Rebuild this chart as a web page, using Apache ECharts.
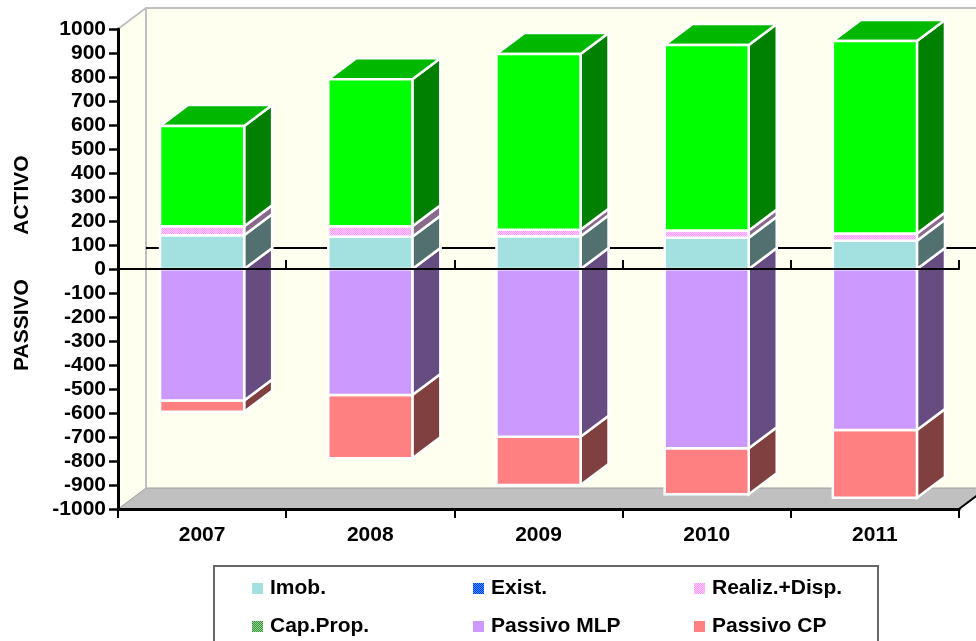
<!DOCTYPE html>
<html>
<head>
<meta charset="utf-8">
<style>html,body{margin:0;padding:0;background:#fff}#chart{width:976px;height:641px}</style>
<script src="https://cdn.jsdelivr.net/npm/echarts@6/dist/echarts.min.js"></script>
</head>
<body>
<div id="chart"></div>
<script>
// Balance sheet structure per year: assets above zero, liabilities below.
const years = ['2007', '2008', '2009', '2010', '2011'];
const imob = [141, 134, 136, 130, 118];
const exist = [0, 0, 0, 0, 0];
const realizDisp = [37, 44, 28, 30, 30];
const capProp = [418, 613, 732, 773, 802];
const passivoMLP = [-548, -525, -699, -747, -671];
const passivoCP = [-47, -264, -201, -192, -282];

const FONT = '"Liberation Sans", Arial, sans-serif';
const DEPTH_X = 28, DEPTH_Y = 21;

// Small two-colour checker used for the stippled fills.
function stipple(a, b) {
  const c = document.createElement('canvas');
  c.width = c.height = 2;
  const g = c.getContext('2d');
  g.fillStyle = a; g.fillRect(0, 0, 2, 2);
  g.fillStyle = b; g.fillRect(0, 0, 1, 1); g.fillRect(1, 1, 1, 1);
  return { image: c, repeat: 'repeat' };
}

// Accumulates a list of layers into [category, start, end] rows.
function stackRows(layers) {
  const running = years.map(() => 0);
  return layers.map(values => values.map((v, i) => {
    const start = running[i];
    running[i] += v;
    return [i, start, running[i]];
  }));
}

// One stacked block: front face, right side face and, optionally, the lid.
function blockRenderer(front, side, lid) {
  return function (params, api) {
    const start = api.value(1), end = api.value(2);
    if (start === end) return null;
    const cat = api.value(0);
    const w = api.size([1, 0])[0] / 2;
    const a = api.coord([cat, start]);
    const b = api.coord([cat, end]);
    const x0 = a[0] - w / 2, x1 = a[0] + w / 2;
    const stroke = { stroke: '#fff', lineWidth: 2.5, lineJoin: 'miter' };
    const children = [
      { type: 'polygon', shape: { points: [[x1, b[1]], [x1 + DEPTH_X, b[1] - DEPTH_Y], [x1 + DEPTH_X, a[1] - DEPTH_Y], [x1, a[1]]] },
        style: Object.assign({ fill: side }, stroke) }
    ];
    if (lid) {
      children.push({ type: 'polygon', shape: { points: [[x0, b[1]], [x0 + DEPTH_X, b[1] - DEPTH_Y], [x1 + DEPTH_X, b[1] - DEPTH_Y], [x1, b[1]]] },
        style: Object.assign({ fill: lid }, stroke) });
    }
    children.push({ type: 'rect', shape: { x: x0, y: Math.min(a[1], b[1]), width: w, height: Math.abs(a[1] - b[1]) },
      style: Object.assign({ fill: front }, stroke) });
    return { type: 'group', children };
  };
}

// Back wall, side wall, floor and the zero line carried on the back wall.
function renderRoom(params, api) {
  const c = params.coordSys;
  const l = c.x, r = c.x + c.width, t = c.y, b = c.y + c.height;
  const zero = api.coord([0, 0])[1];
  const wall = { fill: '#FFFFF0' };
  const edge = { stroke: '#c0c0c0', lineWidth: 2, fill: null };
  return { type: 'group', children: [
    { type: 'polygon', shape: { points: [[l + DEPTH_X, t - DEPTH_Y], [r + DEPTH_X, t - DEPTH_Y], [r + DEPTH_X, b - DEPTH_Y], [l + DEPTH_X, b - DEPTH_Y]] }, style: wall },
    { type: 'polygon', shape: { points: [[l, t], [l + DEPTH_X, t - DEPTH_Y], [l + DEPTH_X, b - DEPTH_Y], [l, b]] }, style: wall },
    { type: 'polygon', shape: { points: [[l, b], [l + DEPTH_X, b - DEPTH_Y], [r + DEPTH_X, b - DEPTH_Y], [r, b]] }, style: { fill: '#c0c0c0', stroke: '#a0a0a0', lineWidth: 1 } },
    { type: 'polyline', shape: { points: [[l, t], [l + DEPTH_X, t - DEPTH_Y], [r + DEPTH_X, t - DEPTH_Y]] }, style: edge },
    { type: 'line', shape: { x1: l + DEPTH_X, y1: t - DEPTH_Y, x2: l + DEPTH_X, y2: b - DEPTH_Y }, style: edge },
    { type: 'line', shape: { x1: r, y1: b, x2: r + DEPTH_X, y2: b - DEPTH_Y }, style: { stroke: '#000', lineWidth: 2 } },
    { type: 'line', shape: { x1: l + DEPTH_X, y1: zero - DEPTH_Y, x2: r + DEPTH_X, y2: zero - DEPTH_Y }, style: { stroke: '#000', lineWidth: 2 } }
  ] };
}

const [rowsImob, rowsExist, rowsRealiz, rowsCap] = stackRows([imob, exist, realizDisp, capProp]);
const [rowsMLP, rowsCP] = stackRows([passivoMLP, passivoCP]);

function block(name, rows, front, side, lid) {
  return {
    type: 'custom', name, data: rows, z: 3,
    coordinateSystem: 'cartesian2d', xAxisIndex: 0, yAxisIndex: 0,
    itemStyle: { color: front },
    encode: { x: 0, y: [1, 2] },
    renderItem: blockRenderer(front, side, lid),
    silent: true, animation: false
  };
}

const labelStyle = { color: '#000', fontFamily: FONT, fontWeight: 'bold', fontSize: 21 };
const legendBase = {
  orient: 'vertical', top: 578, height: 63, padding: 0, itemWidth: 11, itemHeight: 11, itemGap: 17,
  icon: 'rect', selectedMode: false, z: 12,
  textStyle: { color: '#000', fontFamily: FONT, fontWeight: 'bold', fontSize: 21, padding: [0, 0, 0, 2] }
};
const pinkStipple = stipple('#FFCCFF', '#FF99FF');

const option = {
  animation: false,
  backgroundColor: '#fff',
  grid: { left: 118, right: 17, top: 29, bottom: 132, containLabel: false },
  xAxis: [
    { type: 'category', data: years, position: 'bottom', z: 5,
      axisLine: { onZero: false, lineStyle: { color: '#000', width: 3 } },
      axisTick: { show: true, length: 9, alignWithLabel: false, lineStyle: { color: '#000', width: 2 } },
      axisLabel: { ...labelStyle, margin: 16, interval: 0 },
      splitLine: { show: false } },
    { type: 'category', data: years, z: 6,
      axisLine: { onZero: true, lineStyle: { color: '#000', width: 2 } },
      axisTick: { show: true, length: 9, lineStyle: { color: '#000', width: 2 } },
      axisLabel: { show: false }, splitLine: { show: false } }
  ],
  yAxis: { type: 'value', min: -1000, max: 1000, interval: 100, z: 5,
    axisLine: { show: true, lineStyle: { color: '#000', width: 3 } },
    axisTick: { show: true, length: 9, lineStyle: { color: '#000', width: 2.5 } },
    axisLabel: { ...labelStyle, margin: 12, showMinLabel: true, showMaxLabel: true, formatter: v => String(v) },
    splitLine: { show: false } },
  legend: [
    { ...legendBase, left: 252, data: [{ name: 'Imob.' }, { name: 'Cap.Prop.', itemStyle: { color: stipple('#99CC99', '#339933') } }] },
    { ...legendBase, left: 473, data: [{ name: 'Exist.', itemStyle: { color: stipple('#3399FF', '#0033FF') } }, { name: 'Passivo MLP' }] },
    { ...legendBase, left: 694, data: [{ name: 'Realiz.+Disp.', itemStyle: { color: pinkStipple } }, { name: 'Passivo CP' }] }
  ],
  graphic: [
    { type: 'rect', z: 10, shape: { x: 214, y: 566, width: 664, height: 100 }, style: { fill: '#fff', stroke: '#666', lineWidth: 2 } },
    { type: 'text', z: 10, x: 22, y: 195, rotation: Math.PI / 2, style: { text: 'ACTIVO', fill: '#000', font: 'bold 21px ' + FONT, textAlign: 'center', textVerticalAlign: 'middle' } },
    { type: 'text', z: 10, x: 22, y: 325, rotation: Math.PI / 2, style: { text: 'PASSIVO', fill: '#000', font: 'bold 21px ' + FONT, textAlign: 'center', textVerticalAlign: 'middle' } }
  ],
  series: [
    { type: 'custom', data: [[0, 0]], z: 1, coordinateSystem: 'cartesian2d', renderItem: renderRoom, silent: true, animation: false, legendHoverLink: false },
    block('Passivo CP', rowsCP, '#FF8080', '#804040'),
    block('Passivo MLP', rowsMLP, '#CC99FF', '#664C80'),
    block('Imob.', rowsImob, '#A3E0E0', '#527070'),
    block('Exist.', rowsExist, '#0066FF', '#003380'),
    block('Realiz.+Disp.', rowsRealiz, pinkStipple, '#876A8C'),
    block('Cap.Prop.', rowsCap, '#00FF00', '#008000', '#00B800')
  ]
};

echarts.init(document.getElementById('chart'), null, { renderer: 'canvas' }).setOption(option);
</script>
</body>
</html>
